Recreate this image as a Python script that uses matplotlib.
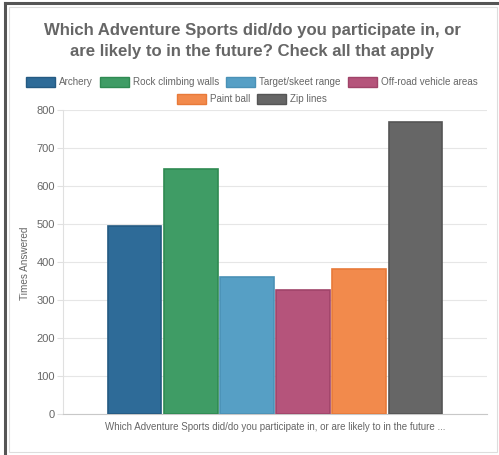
import matplotlib
matplotlib.use("Agg")
import matplotlib.pyplot as plt
from matplotlib.patches import Rectangle
import numpy as np

# data
categories = ["Archery", "Rock climbing walls", "Target/skeet range",
              "Off-road vehicle areas", "Paint ball", "Zip lines"]
values = [495, 645, 360, 327, 382, 768]
fill_colors = ["#2e6b98", "#3f9c65", "#569fc5", "#b5547b", "#f28a4c", "#666666"]
edge_colors = ["#245a82", "#2f8a52", "#4a91b6", "#a04469", "#e87a39", "#555555"]
y_ticks = [0, 100, 200, 300, 400, 500, 600, 700, 800]
title = "Which Adventure Sports did/do you participate in, or\nare likely to in the future? Check all that apply"
x_label = "Which Adventure Sports did/do you participate in, or are likely to in the future ..."
y_label = "Times Answered"

plt.rcParams['font.family'] = ['Liberation Sans', 'DejaVu Sans']
W, H = 499, 455
fig = plt.figure(figsize=(W / 100, H / 100), dpi=100)
fig.patch.set_facecolor("white")

def px(x, y):
    return x / W, 1 - y / H

# frame: dark top/left edge, light inner box
fig.add_artist(plt.Line2D([5 / W, 5 / W], [0, 1 - 3 / H], color="#555555", lw=2.2))
fig.add_artist(plt.Line2D([5 / W, 1], [1 - 3 / H, 1 - 3 / H], color="#555555", lw=2.2))
fig.add_artist(Rectangle(px(9, 452), (497 - 9) / W, (452 - 7) / H, fill=False,
                         edgecolor="#dddddd", lw=0.8))

# axes
left, right, top, bottom = 63, 487, 110, 414
ax = fig.add_axes([left / W, 1 - bottom / H, (right - left) / W, (bottom - top) / H])
slot = 56.2
half = (right - left) / slot / 2
x = np.arange(len(categories)) - (len(categories) - 1) / 2
ax.bar(x, values, width=0.96, color=fill_colors, edgecolor=edge_colors, linewidth=1.2, zorder=3)
ax.set_xlim(-half, half)
ax.set_ylim(0, 800)
ax.set_yticks(y_ticks)
ax.set_yticklabels([str(t) for t in y_ticks])
ax.set_xticks([])
ax.grid(axis="y", color="#e6e6e6", lw=0.8, zorder=0)
for s in ["top", "right"]:
    ax.spines[s].set_visible(False)
ax.spines["left"].set_color("#e0e0e0")
ax.spines["bottom"].set_color("#c8c8c8")
ax.tick_params(axis="y", colors="#e0e0e0", labelcolor="#666666", labelsize=8, length=4.5, pad=1.5)
ax.text(0, -13 / (bottom - top) * 800, x_label, ha="center", va="center",
        color="#666666", fontsize=7.0, transform=ax.transData, clip_on=False)
fig.text(25 / W, 1 - 263 / H, y_label, rotation=90, ha="center", va="center",
         color="#666666", fontsize=7.2)

# title
fig.text(252 / W, 1 - 41 / H, title, ha="center", va="center", fontsize=12.1,
         fontweight="bold", color="#666666", linespacing=1.45)

# legend, drawn like the web chart (centered rows)
rows = [categories[:4], categories[4:]]
row_y = [82, 99]
box_w, box_h, gap, spacing = 29, 10, 4, 7
renderer = fig.canvas.get_renderer()
idx = 0
for row, yc in zip(rows, row_y):
    items = []
    for name in row:
        t = fig.text(0, 1 - yc / H, name, ha="left", va="center", fontsize=7.1, color="#666666")
        wpx = t.get_window_extent(renderer).width
        items.append((t, wpx, idx))
        idx += 1
    total = sum(box_w + gap + w for _, w, _ in items) + spacing * (len(items) - 1)
    xpos = 252 - total / 2
    for t, wpx, i in items:
        fig.add_artist(Rectangle(px(xpos, yc + box_h / 2), box_w / W, box_h / H,
                                 facecolor=fill_colors[i], edgecolor=edge_colors[i], lw=1.0))
        t.set_x((xpos + box_w + gap) / W)
        xpos += box_w + gap + wpx + spacing

fig.savefig("out.png", dpi=100)
